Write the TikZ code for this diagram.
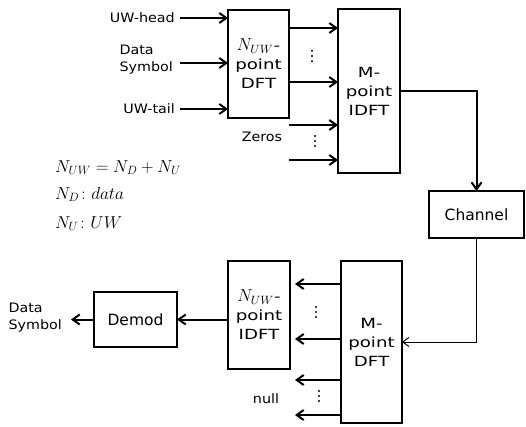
\documentclass[tikz,border=0pt]{standalone}
\usepackage{amsmath}
\usepackage{graphicx}
\usepackage{fontspec}
\setmainfont{DejaVu Sans}
\newfontfamily\boxfont{DejaVu Sans}[FakeStretch=1.3]
\newfontfamily\lblfont{DejaVu Sans}[FakeStretch=1.1]
\usepackage{tikz}
\usetikzlibrary{arrows.meta,positioning,calc}

\begin{document}
\begin{tikzpicture}[
  x=1pt,y=1pt,
  block/.style={draw,line width=2pt,inner sep=0pt,outer sep=0pt,align=center,font=\boxfont\fontsize{14}{19}\selectfont},
  bigblock/.style={block,font=\fontsize{15.5}{19}\selectfont},
  sigarr/.style={-{Straight Barb[length=7pt,width=10pt]},line width=2pt},
  thinarr/.style={-{Straight Barb[length=6pt,width=9pt]},line width=1pt},
  sig/.style={font=\lblfont\fontsize{13}{17}\selectfont,align=left,inner sep=0pt},
  eqn/.style={font=\LARGE,anchor=base west,inner sep=0pt}
]

  \def\dotstack#1#2{%
    \foreach \k in {-1,0,1}{\fill (#1,{#2+5*\k}) circle (1.1pt);}%
  }
  \def\nuw{\scalebox{1.2}{$N_{UW}$}}

  \useasboundingbox (0,0) rectangle (526,426);

  % transmitter
  \node[block,minimum width=61pt,minimum height=108pt] (dftA) at (258.5,362)
    {\nuw-\\point\\DFT};
  \node[block,minimum width=62pt,minimum height=164pt] (idft) at (369,335)
    {M-\\point\\IDFT};
  \node[bigblock,minimum width=95pt,minimum height=47pt] (chan) at (476.5,211.5)
    {Channel};

  % receiver
  \node[block,minimum width=61pt,minimum height=162pt] (dft) at (371.5,84)
    {M-\\point\\DFT};
  \node[block,minimum width=62pt,minimum height=108pt] (idftA) at (259,111)
    {\nuw-\\point\\IDFT};
  \node[bigblock,minimum width=83pt,minimum height=55pt] (demod) at (135.5,106.5)
    {Demod};

  % inputs
  \coordinate (inHead) at (180,408);
  \coordinate (inData) at (180,363);
  \coordinate (inTail) at (180,317);
  \node[sig,anchor=east] (lHead) at (175,408) {UW-head};
  \node[sig,anchor=east] (lData) at (173,366) {Data\\Symbol};
  \node[sig,anchor=east] (lTail) at (175,317) {UW-tail};
  \draw[sigarr] (inHead) -- (inHead -| dftA.west);
  \draw[sigarr] (inData) -- (inData -| dftA.west);
  \draw[sigarr] (inTail) -- (inTail -| dftA.west);

  \coordinate (d1) at (289,398);
  \coordinate (d2) at (289,344);
  \draw[sigarr] (d1) -- (d1 -| idft.west);
  \draw[sigarr] (d2) -- (d2 -| idft.west);
  \dotstack{312}{370}

  \coordinate (z1) at (289,301);
  \coordinate (z2) at (289,266);
  \draw[sigarr] (z1) -- (z1 -| idft.west);
  \draw[sigarr] (z2) -- (z2 -| idft.west);
  \node[sig] (lZeros) at (262,289) {Zeros};
  \dotstack{315}{285}

  \draw[sigarr] (idft.east) -| (chan.north);
  \draw[thinarr] (chan.south) |- (dft.east);

  % outputs
  \coordinate (o1) at (295,142);
  \coordinate (o2) at (295,87);
  \coordinate (o3) at (295,46);
  \coordinate (o4) at (295,11);
  \draw[sigarr] (o1 -| dft.west) -- (o1);
  \draw[sigarr] (o2 -| dft.west) -- (o2);
  \draw[sigarr] (o3 -| dft.west) -- (o3);
  \draw[sigarr] (o4 -| dft.west) -- (o4);
  \dotstack{316}{114}
  \dotstack{319}{30}
  \node[sig] (lNull) at (266,27) {null};

  \draw[sigarr] (idftA.west |- demod.east) -- (demod.east);
  \coordinate (outData) at (71,106.5);
  \draw[sigarr] (demod.west) -- (outData);
  \node[sig,anchor=east] (lOut) at (62,108) {Data\\Symbol};

  % notation
  \node[eqn] (eqA) at (55,254) {$N_{UW}=N_D+N_U$};
  \node[eqn] (eqB) at (55,227) {$N_D\colon data$};
  \node[eqn] (eqC) at (55,198) {$N_U\colon UW$};

\end{tikzpicture}
\end{document}
